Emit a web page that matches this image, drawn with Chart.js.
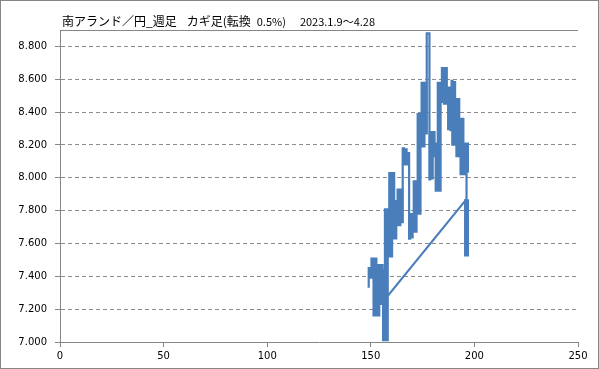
<!DOCTYPE html>
<html><head><meta charset="utf-8">
<script src="https://cdn.jsdelivr.net/npm/chart.js@4/dist/chart.umd.min.js"></script>
<style>
html,body{margin:0;padding:0;background:#fff;}
#wrap{position:relative;width:599px;height:369px;box-sizing:border-box;border:1px solid #868686;background:#fff;}
canvas{display:block;}
</style></head><body>
<div id="wrap"><canvas id="c" width="597" height="367"></canvas></div>
<script>
// Title pieces
const titleTexts = ['南アランド／円_週足', 'カギ足(転換', '0.5%)', '2023.1.9～4.28'];
const titleSizes = [12, 12, 11, 11];
const titleGaps  = [10, 6, 14, 0];

// Kagi path: x of each vertical stroke, turning levels (start + end of each stroke), stroke weight (1 thick, 0 thin)
const kagiX = [149.0,150.0,151.0,152.0,153.4,155.0,155.8,156.6,157.5,158.6,
               159.6,160.6,161.6,162.6,163.6,164.5,165.4,166.6,167.5,168.5,
               169.5,170.4,171.4,172.3,173.3,174.2,175.2,176.1,177.0,178.3,
               179.2,180.1,181.0,182.0,183.0,184.0,185.0,186.0,187.0,188.0,
               189.0,190.0,191.0,192.0,193.0,194.0,195.0,196.2,196.2,196.2];
const kagiLevels = [7.33,
               7.45,7.40,7.50,7.17,7.46,7.24,7.43,7.02,7.80,7.53,
               8.02,7.64,7.85,7.72,7.92,7.73,8.18,8.09,8.15,7.63,
               7.77,7.68,7.97,7.79,8.38,8.20,8.57,8.27,8.88,7.99,
               8.27,8.14,8.20,7.93,8.57,8.47,8.66,8.46,8.54,8.29,
               8.59,8.21,8.47,8.14,8.35,8.03,8.20,8.03,7.87,7.52];
const kagiWeight = [0,1,1,1,1,1,1,1,1,1,
                    1,1,1,1,1,1,0,1,1,0,
                    1,1,1,1,1,1,1,1,0,0,
                    1,1,1,1,1,1,1,1,1,1,
                    0,1,1,1,1,1,1,1,0,1];

// Thin connecting line
const linkX = [157.5, 196.2];
const linkY = [7.27, 7.87];

// Axis ticks
const yMin = 7.0, yMax = 8.9, yStep = 0.2, yLastTick = 8.8;
const xMin = 0, xMax = 250, xStep = 50;

const lineColor = '#4A7EBB';
const gridColor = '#8C8C8C';
const axisColor = '#868686';
const THICK = 5, THIN = 2.2;

// build step polyline
const kagiPoints = [];
kagiX.forEach((x, i) => {
  kagiPoints.push({x: x, y: kagiLevels[i]});
  kagiPoints.push({x: x, y: kagiLevels[i + 1]});
});
const linkPoints = linkX.map((x, i) => ({x: x, y: linkY[i]}));

function segWidth(ctx) {
  const p = ctx.p0DataIndex;
  const i = Math.floor(p / 2);
  if (p % 2 === 0) return kagiWeight[i] ? THICK : THIN;
  const a = kagiWeight[i], b = kagiWeight[i + 1];
  return (a && b) ? THICK : THIN;
}

const titlePlugin = {
  id: 'kagiTitle',
  afterDraw(chart) {
    const ctx = chart.ctx;
    ctx.save();
    ctx.fillStyle = '#000';
    ctx.textBaseline = 'alphabetic';
    ctx.textAlign = 'left';
    let x = chart.chartArea.left + 2;
    const y = 25;
    titleTexts.forEach((t, i) => {
      ctx.font = titleSizes[i] + 'px "Noto Sans CJK JP", "Noto Sans", sans-serif';
      ctx.fillText(t, x, y);
      x += ctx.measureText(t).width + titleGaps[i];
    });
    // top border of plot area
    const a = chart.chartArea;
    ctx.strokeStyle = axisColor;
    ctx.lineWidth = 1;
    ctx.beginPath();
    ctx.moveTo(a.left, Math.round(a.top) + 0.5);
    ctx.lineTo(a.right, Math.round(a.top) + 0.5);
    ctx.stroke();
    ctx.restore();
  }
};

new Chart(document.getElementById('c'), {
  type: 'scatter',
  data: {
    datasets: [
      {
        label: 'カギ足',
        data: kagiPoints,
        showLine: true,
        borderColor: lineColor,
        backgroundColor: lineColor,
        borderWidth: THICK,
        pointRadius: 0,
        pointHoverRadius: 0,
        borderJoinStyle: 'miter',
        segment: { borderWidth: segWidth }
      },
      {
        label: '転換',
        data: linkPoints,
        showLine: true,
        borderColor: lineColor,
        backgroundColor: lineColor,
        borderWidth: THIN,
        pointRadius: 0,
        pointHoverRadius: 0
      }
    ]
  },
  options: {
    responsive: false,
    animation: false,
    devicePixelRatio: 1,
    layout: { padding: { top: 29, right: 20, left: 0, bottom: 0 } },
    plugins: { legend: { display: false }, tooltip: { enabled: false }, title: { display: false } },
    scales: {
      x: {
        type: 'linear',
        min: xMin, max: xMax,
        bounds: 'data',
        afterFit(s) { s.height = 26; },
        ticks: {
          stepSize: xStep,
          color: '#000',
          padding: 3,
          maxRotation: 0,
          font: { family: 'DejaVu Sans', size: 10 }
        },
        grid: { drawOnChartArea: false, drawTicks: true, tickLength: 5, tickColor: axisColor, color: axisColor },
        border: { display: true, color: axisColor, width: 1 }
      },
      y: {
        type: 'linear',
        min: yMin, max: yMax,
        bounds: 'data',
        afterFit(s) { s.width = 59; },
        afterBuildTicks(s) { s.ticks = s.ticks.filter(t => t.value <= yLastTick + 1e-9); },
        ticks: {
          stepSize: yStep,
          includeBounds: false,
          color: '#000',
          padding: 8,
          font: { family: 'DejaVu Sans', size: 10 },
          callback: v => Number(v).toFixed(3)
        },
        grid: {
          drawTicks: true,
          tickLength: 5,
          tickColor: axisColor,
          tickBorderDash: [],
          color: ctx => (ctx.tick && Math.abs(ctx.tick.value - yMin) < 1e-9) ? 'rgba(0,0,0,0)' : gridColor,
          lineWidth: 1
        },
        border: { display: true, color: axisColor, width: 1, dash: [4, 3] }
      }
    }
  },
  plugins: [titlePlugin]
});
</script>
</body></html>
